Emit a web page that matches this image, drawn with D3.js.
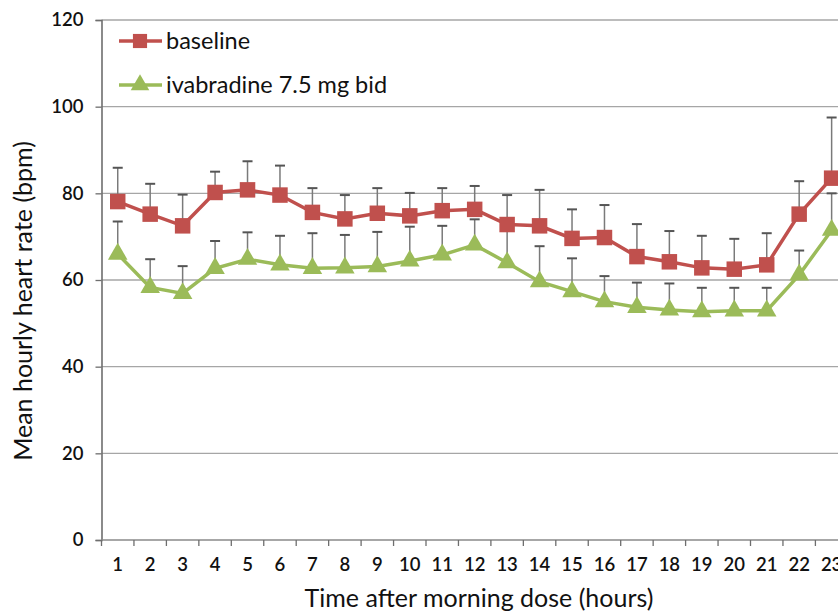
<!DOCTYPE html>
<html><head><meta charset="utf-8">
<script src="https://cdn.jsdelivr.net/npm/d3@7"></script>
<style>body{margin:0;background:#fff}svg{display:block}</style>
</head><body>
<script>
const hours = ["1","2","3","4","5","6","7","8","9","10","11","12","13","14","15","16","17","18","19","20","21","22","23"];
const baseline = [78.1,75.2,72.5,80.2,80.8,79.6,75.6,74.1,75.4,74.8,76.0,76.3,72.8,72.5,69.6,69.8,65.4,64.2,62.8,62.5,63.5,75.2,83.5];
const baselineUpper = [85.9,82.2,79.7,85.0,87.4,86.4,81.2,79.6,81.2,80.1,81.2,81.7,79.6,80.8,76.3,77.3,72.9,71.3,70.2,69.5,70.8,82.8,97.5];
const ivabradine = [66.0,58.3,56.9,62.7,64.8,63.5,62.7,62.8,63.1,64.4,65.8,68.1,64.0,59.6,57.3,55.0,53.7,53.1,52.7,52.9,52.9,61.2,71.5];
const ivabradineUpper = [73.5,64.8,63.2,69.0,71.0,70.2,70.8,70.4,71.1,72.3,72.5,74.0,72.0,67.8,65.0,60.9,59.4,59.2,58.2,58.2,58.2,66.8,80.0];
const yTicks = [0,20,40,60,80,100,120];
const seriesNames = ["baseline","ivabradine 7.5 mg bid"];

(function(){
const W=838,H=613;
const svg=d3.select("body").append("svg").attr("width",W).attr("height",H);
const font="Lato, 'Open Sans', sans-serif";
const mLeft=101.5, mTop=20, mBottom=540, mRight=101.5+23*32.45;
const x=d3.scaleBand().domain(hours).range([mLeft,mRight]);
const y=d3.scaleLinear().domain([0,120]).range([mBottom,mTop]);
const cx=d=>x(d)+x.bandwidth()/2;

// gridlines
svg.append("g").selectAll("line").data(yTicks.filter(t=>t>0)).join("line")
 .attr("x1",mLeft).attr("x2",W).attr("y1",d=>y(d)).attr("y2",d=>y(d))
 .attr("stroke","#a6a6a6").attr("stroke-width",1.3);

// y axis
const ya=svg.append("g").attr("transform",`translate(${mLeft},0)`)
 .call(d3.axisLeft(y).tickValues(yTicks).tickSize(6).tickPadding(12));
ya.select(".domain").attr("stroke","#6e6e6e").attr("stroke-width",1.6);
ya.selectAll(".tick line").attr("stroke","#6e6e6e").attr("stroke-width",1.3);
ya.selectAll("text").attr("font-family",font).attr("font-size",18.5).attr("font-weight","600").attr("fill","#111");

// x axis
const xa=svg.append("g").attr("transform",`translate(0,${mBottom})`)
 .call(d3.axisBottom(x).tickSize(0).tickPadding(18));
xa.select(".domain").remove();
svg.append("line").attr("x1",mLeft).attr("x2",W).attr("y1",mBottom).attr("y2",mBottom).attr("stroke","#8a8a8a").attr("stroke-width",1.6);
svg.append("g").selectAll("line").data(hours).join("line")
 .attr("x1",d=>x(d)).attr("x2",d=>x(d)).attr("y1",mBottom).attr("y2",mBottom+6)
 .attr("stroke","#6e6e6e").attr("stroke-width",1.3);
svg.append("line").attr("x1",mRight).attr("x2",mRight).attr("y1",mBottom).attr("y2",mBottom+6).attr("stroke","#6e6e6e").attr("stroke-width",1.3);
xa.selectAll("text").attr("font-family",font).attr("font-size",18.5).attr("font-weight","600").attr("fill","#111");

// titles
svg.append("text").attr("x",479).attr("y",607).attr("text-anchor","middle")
 .attr("font-family",font).attr("font-size",25).attr("fill","#111").text("Time after morning dose (hours)");
svg.append("text").attr("transform","translate(32,301) rotate(-90)").attr("text-anchor","middle")
 .attr("font-family",font).attr("font-size",25).attr("fill","#111").text("Mean hourly heart rate (bpm)");

const red="#c0504d", green="#9bbb59";

function drawSeries(vals, upper, color, shape){
 const g=svg.append("g");
 g.selectAll("line.err").data(hours).join("line")
  .attr("x1",d=>cx(d)).attr("x2",d=>cx(d))
  .attr("y1",(d,i)=>y(vals[i])).attr("y2",(d,i)=>y(upper[i]))
  .attr("stroke","#7a7a7a").attr("stroke-width",1.5);
 g.selectAll("line.cap").data(hours).join("line")
  .attr("x1",d=>cx(d)-5).attr("x2",d=>cx(d)+5)
  .attr("y1",(d,i)=>y(upper[i])).attr("y2",(d,i)=>y(upper[i]))
  .attr("stroke","#555").attr("stroke-width",2);
 const line=d3.line().x((d,i)=>cx(hours[i])).y(d=>y(d));
 g.append("path").datum(vals).attr("d",line).attr("fill","none").attr("stroke",color).attr("stroke-width",3.5);
 const sym=d3.symbol().type(shape).size(shape===d3.symbolSquare?240:165);
 g.selectAll("path.m").data(vals).join("path")
  .attr("transform",(d,i)=>`translate(${cx(hours[i])},${y(d)})`)
  .attr("d",sym).attr("fill",color);
}
drawSeries(ivabradine, ivabradineUpper, green, d3.symbolTriangle);
drawSeries(baseline, baselineUpper, red, d3.symbolSquare);

// legend
const leg=[{name:seriesNames[0],color:red,shape:d3.symbolSquare,y:41},{name:seriesNames[1],color:green,shape:d3.symbolTriangle,y:85}];
leg.forEach(l=>{
 svg.append("line").attr("x1",119).attr("x2",162).attr("y1",l.y).attr("y2",l.y).attr("stroke",l.color).attr("stroke-width",3.5);
 svg.append("path").attr("transform",`translate(140,${l.y})`).attr("d",d3.symbol().type(l.shape).size(l.shape===d3.symbolSquare?200:150)).attr("fill",l.color);
 svg.append("text").attr("x",166).attr("y",l.y+8).attr("font-family",font).attr("font-size",23.5).attr("fill","#111").text(l.name);
});
})();
</script>
</body></html>
